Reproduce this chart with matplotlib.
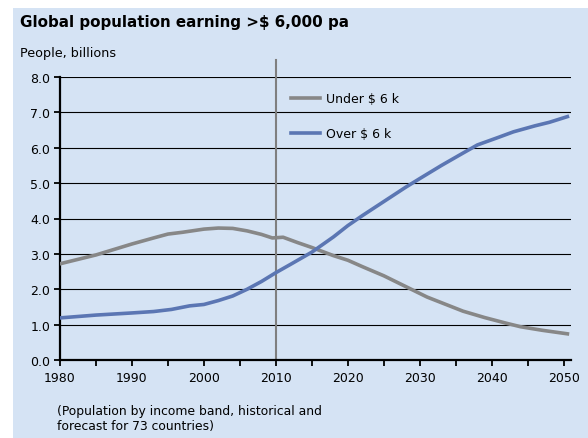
import matplotlib.pyplot as plt
from matplotlib.patches import Rectangle
import numpy as np

# data
years_under = [1980, 1985, 1990, 1993, 1995, 1997, 2000, 2002, 2004, 2006, 2008, 2009.5, 2011,
               2013, 2015, 2018, 2020, 2022, 2025, 2027, 2029, 2031, 2033, 2036, 2039, 2042, 2044, 2047, 2050.5]
under_6k = [2.72, 2.97, 3.28, 3.45, 3.56, 3.61, 3.70, 3.73, 3.72, 3.65, 3.55, 3.45, 3.47,
            3.32, 3.18, 2.95, 2.82, 2.64, 2.38, 2.18, 1.98, 1.78, 1.62, 1.38, 1.20, 1.04, 0.94, 0.84, 0.74]

years_over = [1980, 1985, 1990, 1993, 1995.5, 1998, 2000, 2002, 2004, 2006, 2008, 2010, 2012,
              2015, 2018, 2020, 2022, 2025, 2028, 2030, 2033, 2036, 2038, 2041, 2043, 2046, 2048, 2050.5]
over_6k = [1.19, 1.27, 1.33, 1.37, 1.43, 1.53, 1.57, 1.68, 1.81, 2.00, 2.22, 2.47, 2.70,
           3.05, 3.48, 3.80, 4.08, 4.48, 4.88, 5.13, 5.50, 5.85, 6.08, 6.30, 6.45, 6.62, 6.72, 6.88]

xticks = [1980, 1990, 2000, 2010, 2020, 2030, 2040, 2050]
yticks = [0, 1, 2, 3, 4, 5, 6, 7, 8]

bg = "#d5e3f4"
fig = plt.figure(figsize=(5.88, 4.39), dpi=100)
fig.patches.append(Rectangle((13 / 588, 0), 1 - 13 / 588, 1 - 9 / 439,
                             transform=fig.transFigure, facecolor=bg, edgecolor="none", zorder=-5))

ax = fig.add_axes([60 / 588, 1 - 361 / 439, 511 / 588, 283 / 439])
ax.set_facecolor(bg)

ax.plot(years_under, under_6k, color="#878787", lw=2.6, label="Under $ 6 k", zorder=3)
ax.plot(years_over, over_6k, color="#5b76b3", lw=2.6, label="Over $ 6 k", zorder=3)

ax.axvline(2010, ymin=0, ymax=(361 - 61) / 283, color="#7f7f7f", lw=1.5, clip_on=False, zorder=2)

ax.set_xlim(1980, 2051)
ax.set_ylim(0, 8)
ax.set_xticks(xticks)
ax.set_xticks(np.arange(1980, 2051, 5), minor=True)
ax.set_yticks(yticks)
ax.set_yticklabels([f"{v:.1f}" for v in yticks])
ax.yaxis.grid(True, color="black", lw=0.8)
ax.set_axisbelow(True)

for s in ["top", "right"]:
    ax.spines[s].set_visible(False)
for s in ["left", "bottom"]:
    ax.spines[s].set_linewidth(1.6)
    ax.spines[s].set_color("black")

ax.tick_params(axis="both", which="both", direction="out", length=4, width=1.3,
               labelsize=9, colors="black", pad=3)
ax.tick_params(axis="x", pad=4)

ax.legend(loc="upper left", bbox_to_anchor=(0.43, 0.985), frameon=False, fontsize=9,
          handlelength=2.3, handletextpad=0.5, labelspacing=1.75)

fig.text(20 / 588, 1 - 22 / 439, "Global population earning >$ 6,000 pa", fontsize=10.9,
         fontweight="bold", va="center", ha="left")
fig.text(20 / 588, 1 - 53 / 439, "People, billions", fontsize=9.2, va="center", ha="left")
fig.text(57 / 588, 1 - 419 / 439, "(Population by income band, historical and\nforecast for 73 countries)",
         fontsize=8.9, va="center", ha="left", linespacing=1.2)

fig.savefig("out.png", dpi=100)
